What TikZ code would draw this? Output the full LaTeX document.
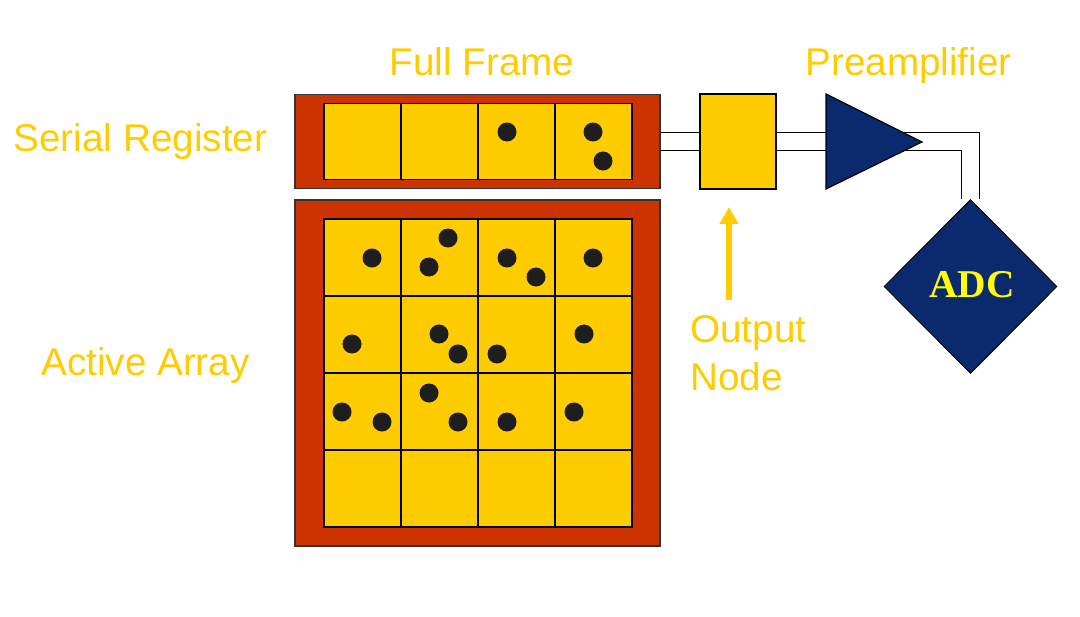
\documentclass[tikz,border=0pt]{standalone}
\usepackage{fontspec}
\setmainfont{Liberation Sans}
\newfontfamily\adcfont{Liberation Serif}
\usetikzlibrary{shapes.geometric,arrows.meta,backgrounds}
\definecolor{framered}{RGB}{204,51,0}
\definecolor{pixelyellow}{RGB}{255,204,0}
\definecolor{chargeblack}{RGB}{30,30,30}
\definecolor{ampblue}{RGB}{11,42,110}
\definecolor{labelgold}{RGB}{255,204,0}
\definecolor{adcyellow}{RGB}{255,255,0}
\tikzset{
  ccdframe/.style={draw=black!80, line width=0.8pt, fill=framered, inner sep=0pt},
  pixel/.style={draw=black, line width=1.4pt, fill=pixelyellow, inner sep=0pt,
    minimum width=1.925cm, minimum height=1.925cm},
  wire/.style={draw=black, line width=0.9pt, double=white, double distance=0.42cm, line join=miter},
  label/.style={text=labelgold, anchor=base, inner sep=0pt, font=\fontsize{27.5}{33.4}\selectfont},
}
\newcommand{\charge}[2]{\fill[chargeblack] (#1,#2) circle (0.2375cm);}
\begin{document}
\begin{tikzpicture}[x=0.025cm, y=-0.025cm]
  \useasboundingbox (0,0) rectangle (1080,617);

  % serial register and active array
  \node[ccdframe, minimum width=9.125cm, minimum height=2.35cm] (serial) at (477.5,141.5) {};
  \node[ccdframe, minimum width=9.125cm, minimum height=8.65cm] (array) at (477.5,373) {};
  \foreach \c in {0,...,3} {
    \node[pixel, minimum height=1.9cm] (sreg-\c) at (362.5+77*\c,141.5) {};
    \foreach \r in {0,...,3}
      \node[pixel] (pix-\r-\c) at (362.5+77*\c,257.5+77*\r) {};
  }

  % charges
  \charge{507}{132} \charge{593}{132} \charge{603}{161}
  \charge{372}{258} \charge{448}{238} \charge{429}{267} \charge{507}{258} \charge{536}{277} \charge{593}{258}
  \charge{352}{344} \charge{439}{334} \charge{458}{354} \charge{497}{354} \charge{584}{334}
  \charge{342}{412} \charge{382}{422} \charge{429}{393} \charge{458}{422} \charge{507}{422} \charge{574}{412}

  % output node, preamplifier, ADC
  \node[draw=black, line width=1pt, fill=pixelyellow, minimum width=1.9cm, minimum height=2.375cm] (outnode) at (738,141.5) {};
  \fill[ampblue, draw=black, line width=0.8pt] (826,94) -- (922,142) -- (826,189) -- cycle;
  \coordinate (amp-in) at (826,141.5);
  \coordinate (amp-out) at (900,141.5);
  \node[diamond, aspect=1, draw=black, line width=0.6pt, fill=ampblue, inner sep=0pt,
    minimum width=4.325cm, minimum height=4.35cm] (adc) at (970.5,286.5) {};
  \node[text=adcyellow, anchor=base, inner sep=0pt, font=\adcfont\bfseries\fontsize{28}{30}\selectfont] (adctext) at (972,297) {ADC};

  % wires
  \begin{scope}[on background layer]
    \draw[wire] (serial.east) -- (outnode.west);
    \draw[wire] (outnode.east) -- (amp-in);
    \draw[wire] (amp-out) -| (adc.north);
  \end{scope}

  % labels
  \node[label] (fulltext) at (482,76) {Full Frame};
  \node[label] (pretext) at (908.5,76) {Preamplifier};
  \node[label] (serialtext) at (140.5,152) {Serial Register};
  \node[label] (arraytext) at (145.5,375) {Active Array};
  \node[label, anchor=base west] (outtext1) at (690,343) {Output};
  \node[label, anchor=base west] (outtext2) at (690,390) {Node};
  \coordinate (arrow-tail) at (729,300);
  \coordinate (arrow-tip) at (729,207);
  \draw[labelgold, line width=0.15cm, -{Triangle[width=0.45cm,length=0.425cm]}] (arrow-tail) -- (arrow-tip);
\end{tikzpicture}
\end{document}
